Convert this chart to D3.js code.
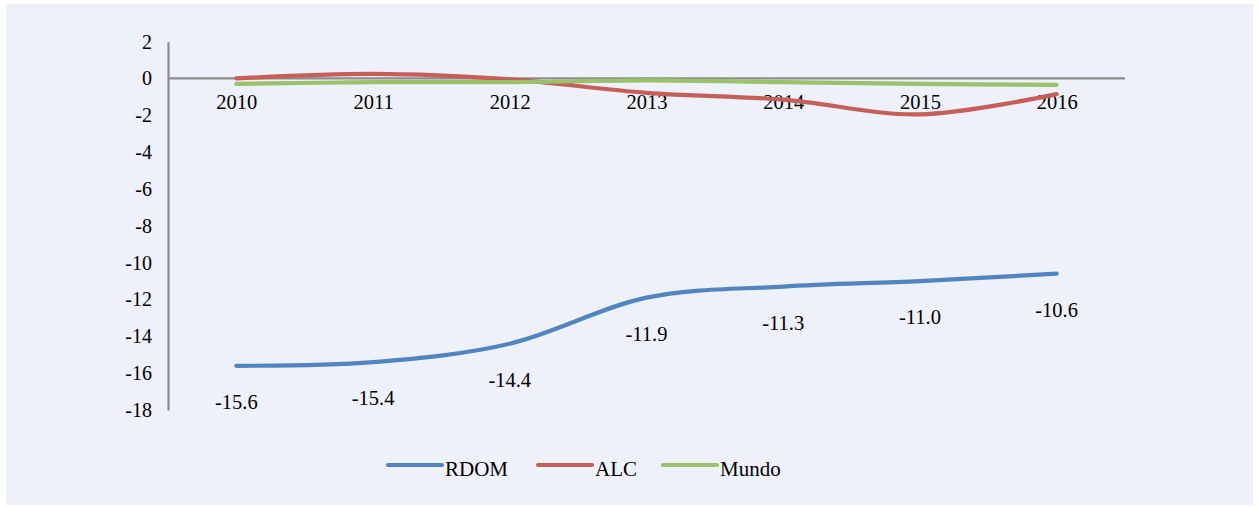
<!DOCTYPE html>
<html>
<head>
<meta charset="utf-8">
<script src="https://cdn.jsdelivr.net/npm/d3@7"></script>
<style>
  html, body { margin: 0; padding: 0; background: #ffffff; }
  svg { display: block; }
  text { font-family: "Liberation Serif", "Times New Roman", serif; fill: #000; }
</style>
</head>
<body>
<svg id="chart" width="1259" height="508"></svg>
<script>
const years = ["2010", "2011", "2012", "2013", "2014", "2015", "2016"];
const rdom = [-15.6, -15.4, -14.4, -11.9, -11.3, -11.0, -10.6];
const alc = [0.0, 0.25, -0.05, -0.78, -1.15, -1.95, -0.85];
const mundo = [-0.3, -0.2, -0.2, -0.1, -0.2, -0.3, -0.35];
const yTicks = [2, 0, -2, -4, -6, -8, -10, -12, -14, -16, -18];
const seriesNames = ["RDOM", "ALC", "Mundo"];
const seriesColors = ["#4F86C2", "#C65E5A", "#9BC16B"];

const svg = d3.select("#chart");
svg.append("rect").attr("x", 6).attr("y", 4).attr("width", 1247).attr("height", 501).attr("fill", "#EEF1F9");

const x = d3.scalePoint().domain(years).range([168, 1125]).padding(0.5);
const y = d3.scaleLinear().domain([-18, 2]).range([410, 41.6]);

// axes
const yAxis = d3.axisLeft(y).tickValues(yTicks).tickSize(0).tickPadding(16).tickFormat(d => d3.format("d")(d).replace("−", "-"));
const gy = svg.append("g").attr("transform", "translate(168,0)").call(yAxis);
gy.attr("font-family", null);
gy.select(".domain").attr("stroke", "#8C8C8C").attr("stroke-width", 2.2);
gy.selectAll("text").attr("font-size", 20).attr("fill", "#000");

const xAxis = d3.axisBottom(x).tickSize(0).tickPadding(16);
const gx = svg.append("g").attr("transform", `translate(0,${y(0)})`).call(xAxis);
gx.attr("font-family", null);
gx.select(".domain").attr("d", "M168,0H1125").attr("stroke", "#8C8C8C").attr("stroke-width", 2.2);
gx.selectAll("text").attr("font-size", 20.5).attr("fill", "#000");

const line = d3.line().x((d, i) => x(years[i])).y(d => y(d)).curve(d3.curveCardinal.tension(0));
const allSeries = [rdom, alc, mundo];
allSeries.forEach((s, k) => {
  svg.append("path").datum(s).attr("d", line)
    .attr("fill", "none").attr("stroke", seriesColors[k])
    .attr("stroke-width", 4.2).attr("stroke-linecap", "round").attr("stroke-linejoin", "round");
});

// data labels for RDOM
svg.append("g").selectAll("text").data(rdom).join("text")
  .attr("x", (d, i) => x(years[i]))
  .attr("y", d => y(d) + 36)
  .attr("dy", "0.35em")
  .attr("text-anchor", "middle")
  .attr("font-size", 20.5)
  .text(d => d3.format(".1f")(d).replace("−", "-"));

// legend
const legendX = [388, 538, 663];
const lg = svg.append("g");
seriesNames.forEach((n, k) => {
  lg.append("line").attr("x1", legendX[k]).attr("x2", legendX[k] + 54)
    .attr("y1", 465).attr("y2", 465)
    .attr("stroke", seriesColors[k]).attr("stroke-width", 4.2).attr("stroke-linecap", "round");
  lg.append("text").attr("x", legendX[k] + 57).attr("y", 469).attr("dy", "0.35em")
    .attr("font-size", 21).text(n);
});
</script>
</body>
</html>
